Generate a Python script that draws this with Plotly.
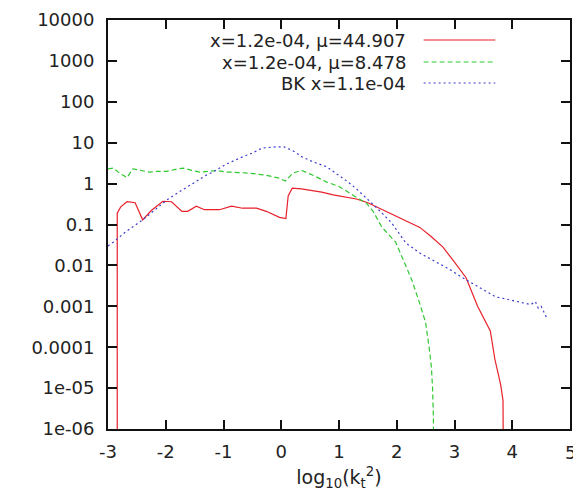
import plotly.graph_objects as go

red_x = [-2.84, -2.84, -2.78, -2.67, -2.53, -2.4, -2.25, -2.05, -1.9, -1.72, -1.62, -1.47, -1.33, -1.07, -0.86, -0.67, -0.43, -0.26, -0.03, 0.08, 0.12, 0.19, 0.35, 0.5, 0.7, 0.9, 1.1, 1.3, 1.5, 1.7, 1.9, 2.1, 2.4, 2.6, 2.8, 3.0, 3.2, 3.4, 3.55, 3.62, 3.7, 3.8, 3.84, 3.85]
red_y = [1e-8, 0.19, 0.27, 0.36, 0.34, 0.13, 0.22, 0.37, 0.36, 0.21, 0.21, 0.28, 0.23, 0.23, 0.28, 0.25, 0.25, 0.21, 0.15, 0.14, 0.5, 0.77, 0.74, 0.69, 0.62, 0.53, 0.47, 0.42, 0.34, 0.25, 0.18, 0.13, 0.085, 0.05, 0.028, 0.012, 0.005, 0.001, 0.0004, 0.00025, 5e-5, 1.2e-5, 5e-6, 1e-8]

green_x = [-3.0, -2.91, -2.8, -2.67, -2.57, -2.45, -2.28, -2.15, -1.98, -1.85, -1.7, -1.55, -1.41, -1.25, -1.12, -0.95, -0.84, -0.55, -0.26, -0.03, 0.07, 0.2, 0.35, 0.55, 0.78, 1.0, 1.17, 1.35, 1.47, 1.6, 1.74, 1.85, 1.98, 2.12, 2.26, 2.38, 2.5, 2.56, 2.6, 2.62, 2.635, 2.64]
green_y = [2.3, 2.4, 1.8, 1.4, 2.3, 2.1, 1.9, 2.0, 2.0, 2.2, 2.4, 2.1, 1.9, 2.0, 2.1, 1.9, 1.9, 1.8, 1.6, 1.35, 1.15, 1.8, 2.1, 1.6, 1.1, 0.85, 0.59, 0.42, 0.34, 0.2, 0.087, 0.06, 0.037, 0.013, 0.0044, 0.0014, 0.0004, 1e-4, 3.3e-5, 1e-5, 2e-6, 1e-8]

blue_x = [-3.0, -2.91, -2.7, -2.4, -2.2, -1.98, -1.75, -1.53, -1.3, -1.16, -0.95, -0.72, -0.5, -0.33, -0.1, 0.05, 0.2, 0.36, 0.55, 0.78, 0.95, 1.12, 1.3, 1.47, 1.7, 1.91, 2.16, 2.4, 2.72, 2.95, 3.12, 3.4, 3.71, 3.9, 4.1, 4.25, 4.32, 4.4, 4.45, 4.5, 4.55, 4.59]
blue_y = [0.03, 0.037, 0.065, 0.13, 0.22, 0.4, 0.65, 1.0, 1.6, 2.0, 3.0, 4.2, 5.6, 7.4, 7.9, 7.9, 6.4, 4.5, 3.4, 2.6, 1.8, 1.2, 0.75, 0.45, 0.22, 0.11, 0.035, 0.02, 0.011, 0.0075, 0.0052, 0.003, 0.0017, 0.0015, 0.0013, 0.0012, 0.0011, 0.0013, 0.0009, 0.001, 0.0007, 0.00055]

series_names = ["x=1.2e-04, \u03bc=44.907", "x=1.2e-04, \u03bc=8.478", "BK x=1.1e-04"]
series_colors = ["#e8202a", "#30c830", "#3c3ccc"]
series_dash = ["solid", "5px,3px", "2px,3px"]

y_tickvals = [1e-6, 1e-5, 1e-4, 1e-3, 1e-2, 1e-1, 1, 10, 100, 1000, 10000]
y_ticktext = ["1e-06", "1e-05", "0.0001", "0.001", "0.01", "0.1", "1", "10", "100", "1000", "10000"]
x_tickvals = [-3, -2, -1, 0, 1, 2, 3, 4, 5]
x_ticktext = ["-3", "-2", "-1", "0", "1", "2", "3", "4", "5"]

FONT = "DejaVu Sans"
fig = go.Figure()
for xs, ys, name, col, dash in zip([red_x, green_x, blue_x], [red_y, green_y, blue_y], series_names, series_colors, series_dash):
    fig.add_trace(go.Scatter(x=xs, y=ys, mode="lines", name=name,
                             line=dict(color=col, width=1.2, dash=dash), showlegend=False))

# gnuplot-style key: text right-aligned, sample line to the right
W, H = 573, 499
L, R, T, B = 108, 1, 20, 70
pw, ph = W - L - R, H - T - B
def px_to_paper(px, py):
    return (px - L) / pw, (H - B - py) / ph

key_rows = [40, 62, 83]
for name, col, dash, py in zip(series_names, series_colors, series_dash, key_rows):
    tx, ty = px_to_paper(409, py)
    fig.add_annotation(x=tx, y=ty, xref="paper", yref="paper", text=name, showarrow=False,
                       xanchor="right", yanchor="middle",
                       font=dict(family=FONT, size=18, color="#222"))
    x0, _ = px_to_paper(425, py)
    x1, _ = px_to_paper(497, py)
    fig.add_shape(type="line", xref="paper", yref="paper", x0=x0, x1=x1, y0=ty, y1=ty,
                  line=dict(color=col, width=1.2, dash=dash))

# last x tick label sits at the page edge (partly cut, as in the reference)
fig.add_annotation(x=x_tickvals[-1], y=0, xref="x", yref="paper", text=x_ticktext[-1],
                   showarrow=False, xanchor="center", yanchor="top", yshift=-11,
                   font=dict(family=FONT, size=18, color="#222"))

fig.update_layout(
    width=W, height=H,
    margin=dict(l=L, r=R, t=T, b=B),
    paper_bgcolor="white", plot_bgcolor="white",
    font=dict(family=FONT, size=18, color="#222"),
)
fig.update_xaxes(range=[-3, 5], tickvals=x_tickvals[:-1], ticktext=x_ticktext[:-1],
                 ticks="inside", ticklen=9, tickwidth=1.5, ticklabelstandoff=5,
                 tickcolor="#111", showline=True, linecolor="#111", linewidth=2, mirror="allticks",
                 showgrid=False, zeroline=False,
                 title=dict(text="log<sub>10</sub>(k<sub>t</sub><sup>2</sup>)", standoff=10,
                            font=dict(family=FONT, size=19)))
fig.update_yaxes(type="log", range=[-6, 4], tickvals=y_tickvals, ticktext=y_ticktext,
                 ticks="inside", ticklen=9, tickwidth=1.5, tickcolor="#111",
                 showline=True, linecolor="#111", linewidth=2, mirror="allticks",
                 showgrid=False, zeroline=False, ticklabelstandoff=8)

fig.write_html("out.html")
